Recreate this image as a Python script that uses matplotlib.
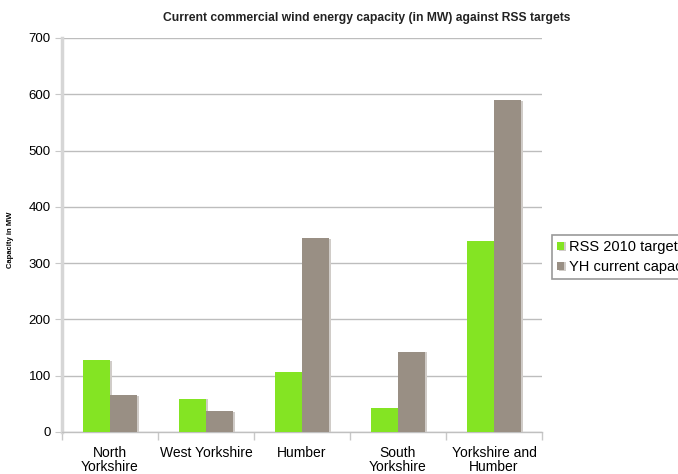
import matplotlib
matplotlib.use("Agg")
import matplotlib.pyplot as plt
import numpy as np
from matplotlib import patheffects as pe

plt.rcParams['font.family'] = ['Liberation Sans', 'DejaVu Sans']

categories = ["North\nYorkshire", "West Yorkshire", "Humber", "South\nYorkshire", "Yorkshire and\nHumber"]
rss_2010_target = [128, 59, 107, 43, 340]
yh_current_capacity = [65, 37, 345, 143, 590]
series_names = ["RSS 2010 target", "YH current capacity"]

fig = plt.figure(figsize=(6.78, 4.74), dpi=100)
ax = fig.add_axes([62/678, 1-432/474, (542-62)/678, (432-38)/474])

x = np.arange(len(categories))
w = 0.285
shadow = [pe.SimplePatchShadow(offset=(1.5, -0.5), shadow_rgbFace='#d0ccc8', alpha=1), pe.Normal()]
b1 = ax.bar(x - w/2, rss_2010_target, w, color='#84e423', zorder=3, path_effects=shadow)
b2 = ax.bar(x + w/2, yh_current_capacity, w, color='#998f84', zorder=3, path_effects=shadow)

ax.set_ylim(0, 700)
ax.set_xlim(-0.5, len(categories) - 0.5)
ax.set_yticks(np.arange(0, 701, 100))
ax.yaxis.grid(True, color='#bdbdbd', linewidth=1.0, zorder=0)
ax.set_axisbelow(True)

ax.set_xticks(x)
ax.set_xticklabels(categories, fontsize=10, linespacing=1.0)
ax.set_xticks(np.arange(-0.5, len(categories), 1), minor=True)
ax.tick_params(axis='x', which='major', length=0, pad=10)
ax.tick_params(axis='x', which='minor', length=6, color='#c8c8c8', width=1)
ax.tick_params(axis='y', length=5, color='#c8c8c8', labelsize=9.5, pad=3)

for s in ['top', 'right']:
    ax.spines[s].set_visible(False)
ax.spines['left'].set_color('#d6d6d6')
ax.spines['left'].set_linewidth(2.5)
ax.spines['bottom'].set_color('#c0c0c0')
ax.spines['bottom'].set_linewidth(1.0)

ax.set_ylabel("Capacity in MW", fontsize=5.5, fontweight='bold')
ax.yaxis.set_label_coords((14 - 62)/480, (432 - 240)/394)

fig.text(367/678, 1-18/474, "Current commercial wind energy capacity (in MW) against RSS targets",
         ha='center', va='center', fontsize=8.7, fontweight='bold', color='#222222')

leg = fig.legend([b1, b2], series_names, loc='upper left',
                 bbox_to_anchor=(552/678, 1-235/474), fontsize=10.5,
                 handlelength=0.5, handleheight=0.5, handletextpad=0.3,
                 borderpad=0.35, labelspacing=0.4, fancybox=False, framealpha=1,
                 edgecolor='#9a9a9a', borderaxespad=0)
leg.get_frame().set_linewidth(1.2)

fig.savefig("out.png", dpi=100)
